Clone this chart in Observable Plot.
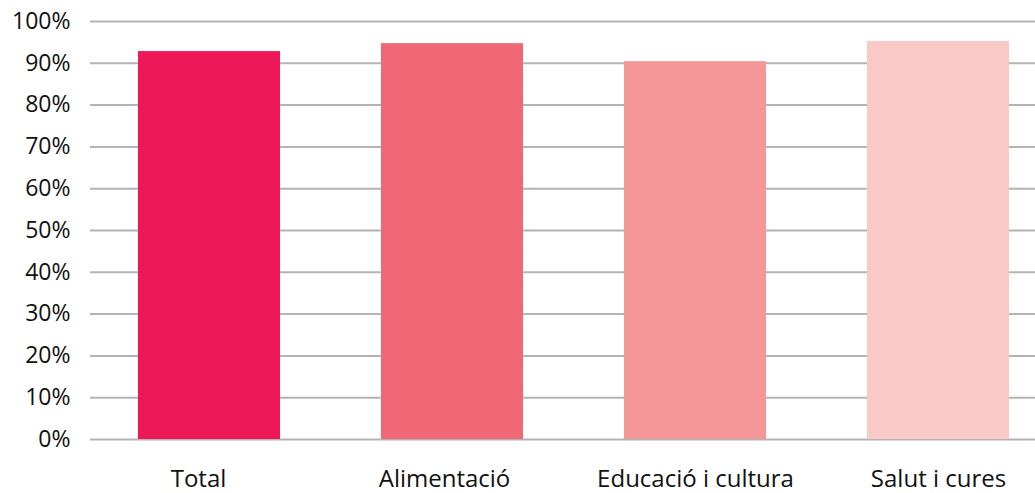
<!DOCTYPE html>
<html>
<head>
<meta charset="utf-8">
<script src="https://cdn.jsdelivr.net/npm/d3@7"></script>
<script src="https://cdn.jsdelivr.net/npm/@observablehq/plot@0.6"></script>
<style>
  html, body { margin: 0; padding: 0; background: #fff; }
  #chart svg { display: block; }
</style>
</head>
<body>
<div id="chart"></div>
<script>
const categories = ["Total", "Alimentació", "Educació i cultura", "Salut i cures"];
const values = [0.928, 0.947, 0.904, 0.952];
const colors = ["#ee1757", "#f06775", "#f59799", "#f9c9c5"];
const yTicks = [0, 0.1, 0.2, 0.3, 0.4, 0.5, 0.6, 0.7, 0.8, 0.9, 1.0];

const data = categories.map((c, i) => ({category: c, value: values[i]}));

const xAxisOpts = {tickSize: 0, tickPadding: 30, label: null, fontSize: 24};

const chart = Plot.plot({
  width: 1035,
  height: 493,
  marginLeft: 90,
  marginRight: 0,
  marginTop: 21,
  marginBottom: 54,
  style: {fontFamily: "'Open Sans', sans-serif", fontSize: "23px", color: "#111", background: "#fff"},
  x: {domain: categories, range: [89, 1057], paddingInner: 0.416, paddingOuter: 0.197, label: null},
  y: {domain: [0, 1], label: null},
  color: {domain: categories, range: colors},
  marks: [
    Plot.ruleY(yTicks, {stroke: "#b4b4b4", strokeWidth: 2}),
    Plot.barY(data, {x: "category", y: "value", fill: "category"}),
    Plot.axisY({ticks: yTicks, tickFormat: d3.format(".0%"), tickSize: 0, tickPadding: 20, label: null, fontSize: 23}),
    Plot.axisX({...xAxisOpts, ticks: categories.slice(0, 1), dx: -11}),
    Plot.axisX({...xAxisOpts, ticks: categories.slice(1, 2), dx: -8}),
    Plot.axisX({...xAxisOpts, ticks: categories.slice(2)})
  ]
});
document.getElementById("chart").appendChild(chart);
</script>
</body>
</html>
